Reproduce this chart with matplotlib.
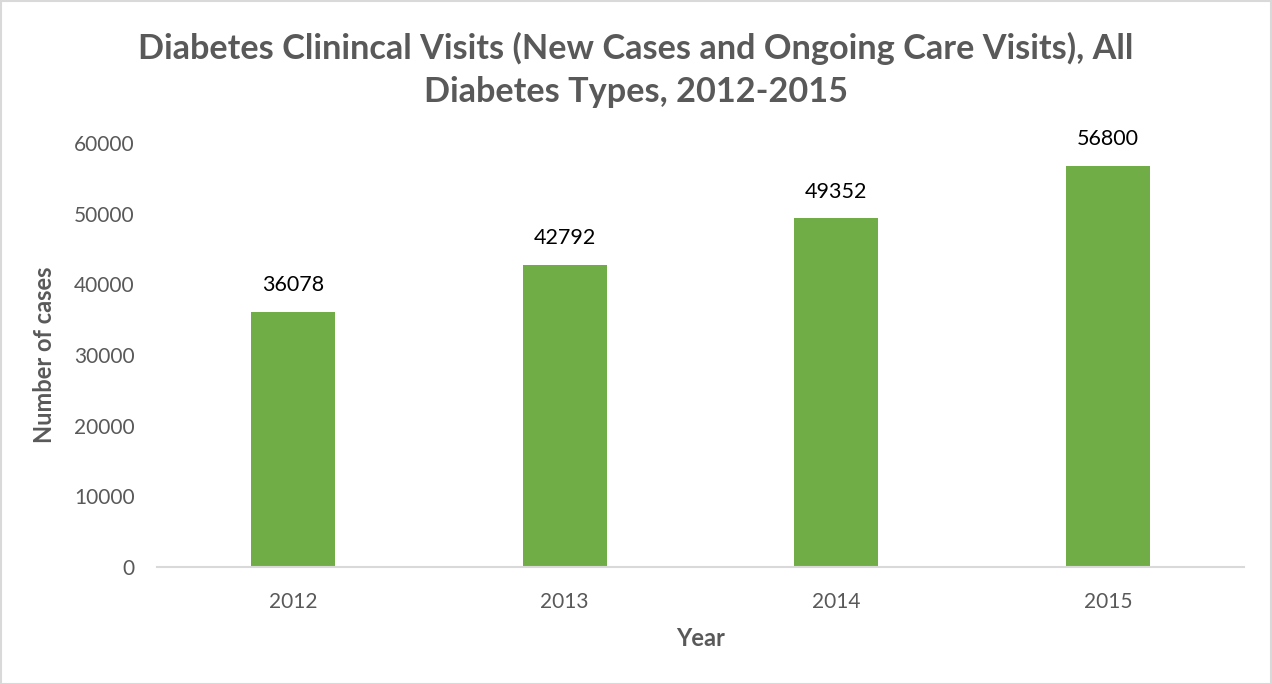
import matplotlib
matplotlib.use("Agg")
import matplotlib.pyplot as plt
from matplotlib.patches import Rectangle

plt.rcParams['font.family'] = ['Lato', 'DejaVu Sans']

years = ["2012", "2013", "2014", "2015"]
cases = [36078, 42792, 49352, 56800]
yticks = [0, 10000, 20000, 30000, 40000, 50000, 60000]
title = "Diabetes Clinincal Visits (New Cases and Ongoing Care Visits), All\nDiabetes Types, 2012-2015"

W, H = 1272, 684
fig = plt.figure(figsize=(W / 100, H / 100), dpi=100)
fig.patch.set_facecolor("white")
fig.add_artist(Rectangle((0.5 / W, 0.5 / H), 1 - 1.5 / W, 1 - 1.5 / H, transform=fig.transFigure,
                         fill=False, edgecolor="#D9D9D9", linewidth=1.5))

left, right, bottom, top = 157, 1244, 567, 143
ax = fig.add_axes([left / W, 1 - bottom / H, (right - left) / W, (bottom - top) / H])

x = range(len(years))
bars = ax.bar(x, cases, width=0.31, color="#70AD47", zorder=2)
ax.set_xlim(-0.5, len(years) - 0.5)
ax.set_ylim(0, 60000)
ax.set_yticks(yticks)
ax.set_yticklabels([str(v) for v in yticks])
ax.set_xticks(list(x))
ax.set_xticklabels(years)

for s in ["top", "right", "left"]:
    ax.spines[s].set_visible(False)
ax.spines["bottom"].set_color("#D9D9D9")
ax.spines["bottom"].set_linewidth(1.5)
ax.tick_params(axis="both", length=0, labelsize=15, labelcolor="#595959")
ax.tick_params(axis="y", pad=16)
ax.tick_params(axis="x", pad=18)

for rect, v in zip(bars, cases):
    ax.annotate(str(v), (rect.get_x() + rect.get_width() / 2, v), xytext=(0, 12),
                textcoords="offset points", ha="center", va="bottom",
                fontsize=15.5, color="#000000", clip_on=False)

ax.set_xlabel("Year", fontsize=17, fontweight="bold", color="#595959", labelpad=11)
ax.set_ylabel("Number of cases", fontsize=17, fontweight="bold", color="#595959", labelpad=13)

fig.text(0.5, 1 - 70 / H, title, ha="center", va="center", fontsize=24.7, fontweight="bold",
         color="#595959", linespacing=1.42)

fig.savefig("out.png", dpi=100, facecolor="white")
